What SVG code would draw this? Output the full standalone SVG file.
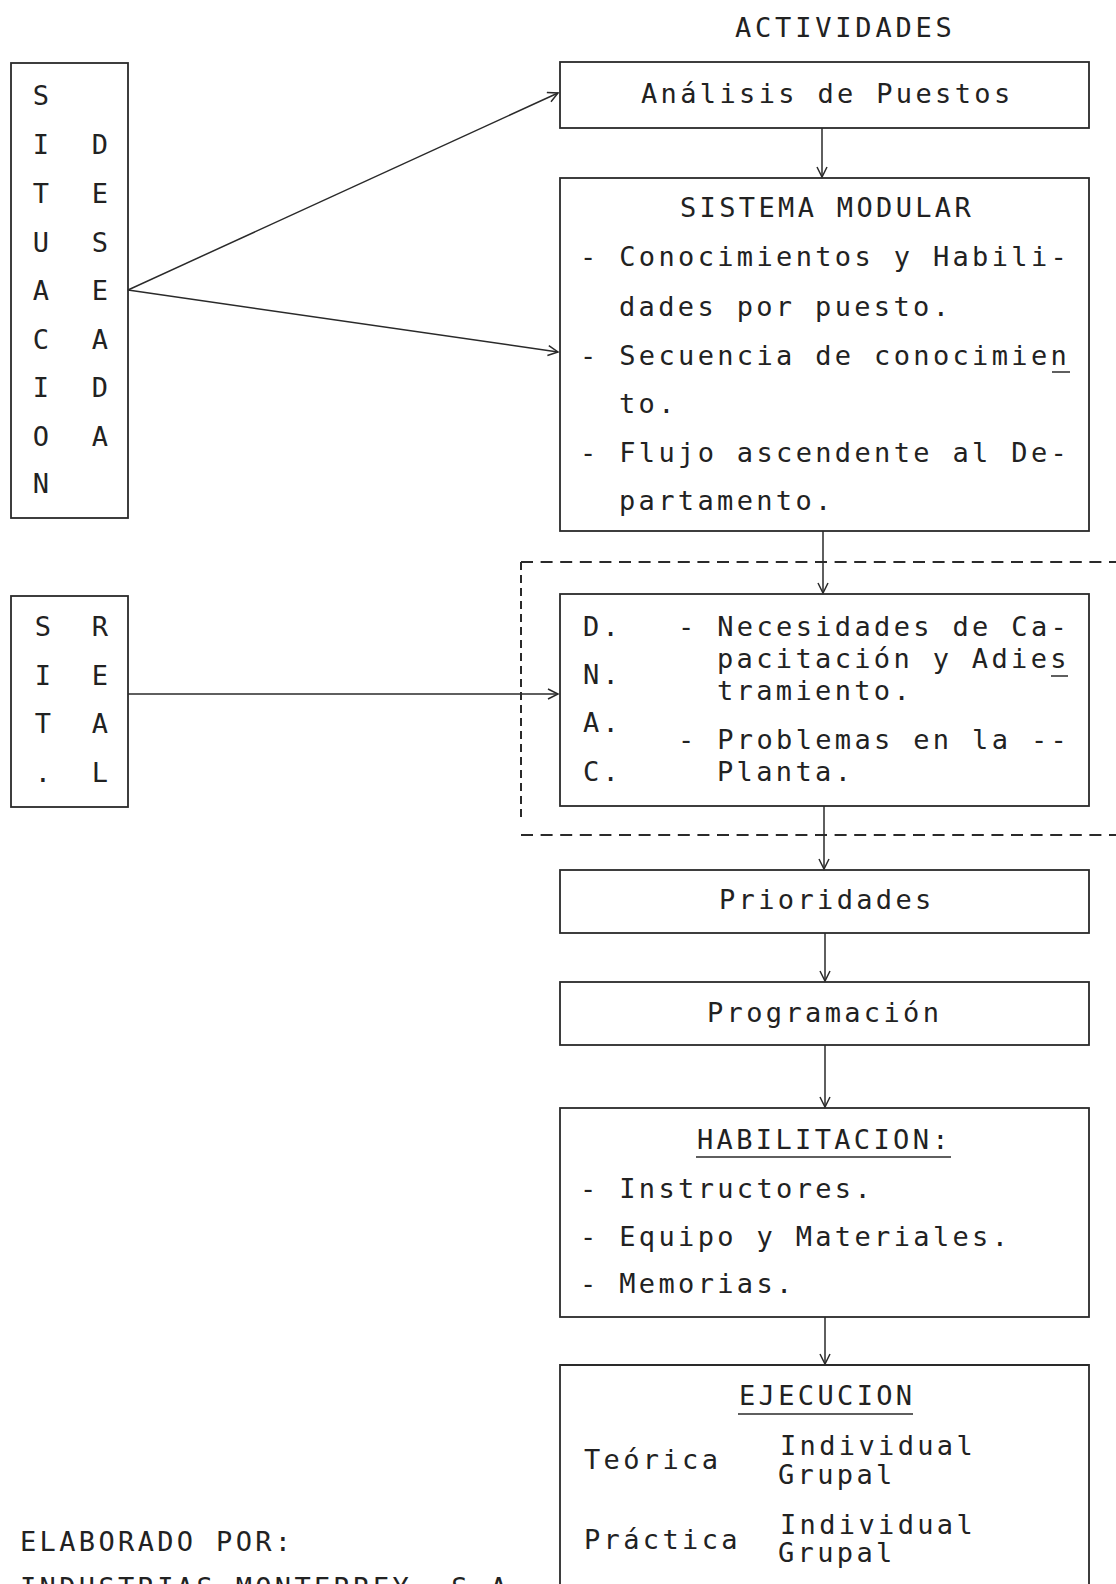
<svg xmlns="http://www.w3.org/2000/svg" width="1116" height="1584" viewBox="0 0 1116 1584">
<style>
.t{font-family:"DejaVu Sans Mono","Liberation Mono",monospace;font-size:27px;letter-spacing:3.35px;fill:#222}
.c{font-family:"DejaVu Sans Mono","Liberation Mono",monospace;font-size:27px;fill:#222;text-anchor:middle}
.box{fill:none;stroke:#2a2a2a;stroke-width:1.8}
.con{fill:none;stroke:#2a2a2a;stroke-width:1.5}
.ul{stroke:#2a2a2a;stroke-width:1.5}
.dh{fill:none;stroke:#2a2a2a;stroke-width:2;stroke-dasharray:12 7.6}
.dv{fill:none;stroke:#2a2a2a;stroke-width:2;stroke-dasharray:8 5}
</style>
<defs>
<marker id="ah" markerUnits="userSpaceOnUse" markerWidth="14" markerHeight="14" refX="11" refY="6" orient="auto">
<path d="M1,1 L11,6 L1,11" fill="none" stroke="#2a2a2a" stroke-width="1.5"/>
</marker>
</defs>
<rect width="1116" height="1584" fill="#ffffff"/>

<text class="t" x="735" y="37" style="letter-spacing:3.8px">ACTIVIDADES</text>

<g id="situacion-deseada">
<rect class="box" x="11" y="63" width="117" height="455"/>
<text class="c" x="41" y="105">S</text>
<text class="c" x="41" y="154">I</text>
<text class="c" x="41" y="203">T</text>
<text class="c" x="41" y="252">U</text>
<text class="c" x="41" y="300">A</text>
<text class="c" x="41" y="349">C</text>
<text class="c" x="41" y="397">I</text>
<text class="c" x="41" y="446">O</text>
<text class="c" x="41" y="493">N</text>
<text class="c" x="100" y="154">D</text>
<text class="c" x="100" y="203">E</text>
<text class="c" x="100" y="252">S</text>
<text class="c" x="100" y="300">E</text>
<text class="c" x="100" y="349">A</text>
<text class="c" x="100" y="397">D</text>
<text class="c" x="100" y="446">A</text>
</g>

<g id="sit-real">
<rect class="box" x="11" y="596" width="117" height="211"/>
<text class="c" x="43" y="636">S</text>
<text class="c" x="43" y="685">I</text>
<text class="c" x="43" y="733">T</text>
<text class="c" x="43" y="782">.</text>
<text class="c" x="100" y="636">R</text>
<text class="c" x="100" y="685">E</text>
<text class="c" x="100" y="733">A</text>
<text class="c" x="100" y="782">L</text>
</g>

<g id="analisis-puestos">
<rect class="box" x="560" y="62" width="529" height="66"/>
<text class="t" x="641" y="103">Análisis de Puestos</text>
</g>

<g id="sistema-modular">
<rect class="box" x="560" y="178" width="529" height="353"/>
<text class="t" x="680" y="217">SISTEMA MODULAR</text>
<text class="t" x="580" y="266">- Conocimientos y Habili-</text>
<text class="t" x="619" y="316">dades por puesto.</text>
<text class="t" x="580" y="365">- Secuencia de conocimien</text>
<line class="ul" x1="1052" y1="372" x2="1070" y2="372"/>
<text class="t" x="619" y="413">to.</text>
<text class="t" x="580" y="462">- Flujo ascendente al De-</text>
<text class="t" x="619" y="510">partamento.</text>
</g>

<g id="dnac-frame">
<path class="dh" d="M521,562 H1116"/>
<path class="dh" d="M521,835 H1116"/>
<path class="dv" d="M521,562 V822"/>
</g>

<g id="dnac">
<rect class="box" x="560" y="594" width="529" height="212"/>
<text class="t" x="583" y="636">D.</text>
<text class="t" x="583" y="684">N.</text>
<text class="t" x="583" y="732">A.</text>
<text class="t" x="583" y="781">C.</text>
<text class="t" x="678" y="636">- Necesidades de Ca-</text>
<text class="t" x="717" y="668">pacitación y Adies</text>
<line class="ul" x1="1051" y1="676" x2="1068" y2="676"/>
<text class="t" x="717" y="700">tramiento.</text>
<text class="t" x="678" y="749">- Problemas en la --</text>
<text class="t" x="717" y="781">Planta.</text>
</g>

<g id="prioridades">
<rect class="box" x="560" y="870" width="529" height="63"/>
<text class="t" x="719" y="909">Prioridades</text>
</g>

<g id="programacion">
<rect class="box" x="560" y="982" width="529" height="63"/>
<text class="t" x="707" y="1022">Programación</text>
</g>

<g id="habilitacion">
<rect class="box" x="560" y="1108" width="529" height="209"/>
<text class="t" x="697" y="1149">HABILITACION:</text>
<line class="ul" x1="696" y1="1157" x2="951" y2="1157"/>
<text class="t" x="580" y="1198">- Instructores.</text>
<text class="t" x="580" y="1246">- Equipo y Materiales.</text>
<text class="t" x="580" y="1293">- Memorias.</text>
</g>

<g id="ejecucion">
<path class="box" d="M560,1600 V1365 H1089 V1600"/>
<text class="t" x="739" y="1405">EJECUCION</text>
<line class="ul" x1="738" y1="1414" x2="913" y2="1414"/>
<text class="t" x="584" y="1469">Teórica</text>
<text class="t" x="780" y="1455">Individual</text>
<text class="t" x="778" y="1484">Grupal</text>
<text class="t" x="584" y="1549">Práctica</text>
<text class="t" x="780" y="1534">Individual</text>
<text class="t" x="778" y="1562">Grupal</text>
</g>

<g id="elaborado">
<text class="t" x="20" y="1551">ELABORADO POR:</text>
<text class="t" x="20" y="1597">INDUSTRIAS MONTERREY, S.A.</text>
</g>

<g id="connectors">
<line class="con" x1="128" y1="290" x2="558" y2="93" marker-end="url(#ah)"/>
<line class="con" x1="128" y1="290" x2="558" y2="352" marker-end="url(#ah)"/>
<line class="con" x1="128" y1="694" x2="558" y2="694" marker-end="url(#ah)"/>
<line class="con" x1="822" y1="128" x2="822" y2="177" marker-end="url(#ah)"/>
<line class="con" x1="823" y1="531" x2="823" y2="593" marker-end="url(#ah)"/>
<line class="con" x1="824" y1="806" x2="824" y2="869" marker-end="url(#ah)"/>
<line class="con" x1="825" y1="933" x2="825" y2="981" marker-end="url(#ah)"/>
<line class="con" x1="825" y1="1045" x2="825" y2="1107" marker-end="url(#ah)"/>
<line class="con" x1="825" y1="1317" x2="825" y2="1364" marker-end="url(#ah)"/>
</g>
</svg>
